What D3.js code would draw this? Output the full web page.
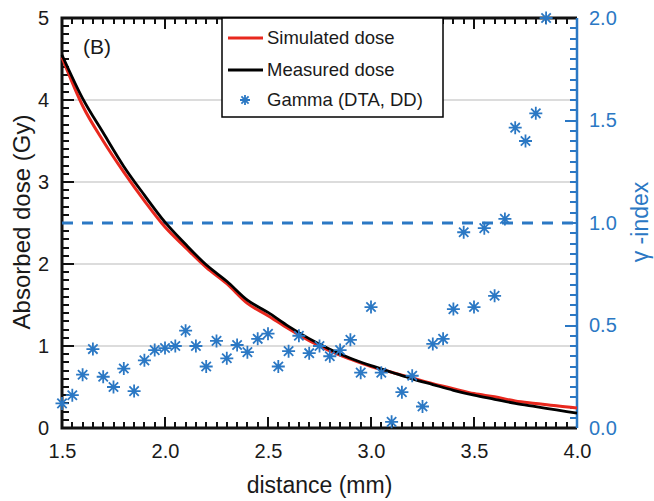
<!DOCTYPE html>
<html>
<head>
<meta charset="utf-8">
<script src="https://cdn.jsdelivr.net/npm/d3@7"></script>
<style>
    body { margin: 0; background: #fff; }
    text { font-family: "Liberation Sans", Arial, sans-serif; }
</style>
</head>
<body>
<div id="chart"></div>
<script>
// dose curves, every 0.1 mm
const distance = [1.5, 1.6, 1.7, 1.8, 1.9, 2.0, 2.1, 2.2, 2.3, 2.4, 2.5, 2.6, 2.7,
    2.8, 2.9, 3.0, 3.1, 3.2, 3.3, 3.4, 3.5, 3.6, 3.7, 3.8, 3.9, 4.0];
const simulatedDose = [4.52, 3.93, 3.50, 3.12, 2.77, 2.45, 2.20, 1.96, 1.76, 1.52, 1.37, 1.21, 1.065,
    0.94, 0.84, 0.75, 0.68, 0.61, 0.54, 0.48, 0.42, 0.38, 0.33, 0.30, 0.27, 0.245];
const measuredDose = [4.55, 4.02, 3.60, 3.19, 2.84, 2.51, 2.24, 1.99, 1.79, 1.56, 1.41, 1.24, 1.09,
    0.96, 0.85, 0.76, 0.68, 0.60, 0.53, 0.46, 0.40, 0.35, 0.30, 0.26, 0.22, 0.18];

// gamma index points (every 0.05 mm)
const gammaX = [1.5, 1.55, 1.6, 1.65, 1.7, 1.75, 1.8, 1.85, 1.9, 1.95, 2.0, 2.05, 2.1, 2.15,
    2.2, 2.25, 2.3, 2.35, 2.4, 2.45, 2.5, 2.55, 2.6, 2.65, 2.7, 2.75, 2.8, 2.85, 2.9, 2.95,
    3.0, 3.05, 3.1, 3.15, 3.2, 3.25, 3.3, 3.35, 3.4, 3.45, 3.5, 3.55, 3.6, 3.65, 3.7, 3.75,
    3.8, 3.85];
const gammaIndex = [0.12, 0.16, 0.26, 0.385, 0.25, 0.20, 0.29, 0.18, 0.33, 0.38, 0.39, 0.40, 0.475, 0.40,
    0.30, 0.425, 0.34, 0.405, 0.37, 0.435, 0.46, 0.30, 0.375, 0.45, 0.365, 0.40, 0.35, 0.38, 0.43, 0.27,
    0.59, 0.27, 0.03, 0.175, 0.255, 0.105, 0.41, 0.435, 0.58, 0.955, 0.59, 0.975, 0.645, 1.02, 1.465, 1.40,
    1.535, 2.0];

const xTicks = [1.5, 2.0, 2.5, 3.0, 3.5, 4.0];
const doseTicks = [0, 1, 2, 3, 4, 5];
const gammaTicks = [0, 0.5, 1.0, 1.5, 2.0];
const gammaThreshold = 1.0;
const legendLabels = ["Simulated dose", "Measured dose", "Gamma (DTA, DD)"];

const red = "#e8281e";
const blue = "#2b78c4";

let margin = { top: 18, right: 77, bottom: 73, left: 62 };
let width = 654 - margin.left - margin.right;
let height = 501 - margin.top - margin.bottom;

let svg = d3.select("#chart").append("svg")
    .attr("width", 654)
    .attr("height", 501)
    .append("g")
    .attr("transform", `translate(${margin.left}, ${margin.top})`);

let x = d3.scaleLinear().domain([1.5, 4.0]).range([0, width]);
let yDose = d3.scaleLinear().domain([0, 5]).range([height, 0]);
let yGamma = d3.scaleLinear().domain([0, 2]).range([height, 0]);

// horizontal grid lines
svg.append("g")
    .selectAll("line")
    .data(doseTicks.slice(1, -1))
    .enter().append("line")
    .attr("x1", 0).attr("x2", width)
    .attr("y1", d => yDose(d)).attr("y2", d => yDose(d))
    .attr("stroke", "#dcdcdc")
    .attr("stroke-width", 2);

// minor ticks, every 0.05 mm / 0.1 Gy / 0.05 gamma
const xMinor = d3.range(30, 81).map(i => i / 20);
const doseMinor = d3.range(0, 51).map(i => i / 10);
const gammaMinor = d3.range(0, 41).map(i => i / 20);

let isMajorX = v => Math.abs(v * 2 - Math.round(v * 2)) < 1e-6;
let isMajorD = v => Math.abs(v - Math.round(v)) < 1e-6;

// tick marks and frame, drawn first so everything else sits on top
let frame = svg.append("g").attr("class", "frame");

frame.selectAll(".tb")
    .data(xMinor)
    .enter().append("line")
    .attr("class", "tb")
    .attr("x1", d => Math.round(x(d))).attr("x2", d => Math.round(x(d)))
    .attr("y1", height).attr("y2", d => height - (isMajorX(d) ? 11 : 6))
    .attr("stroke", "#111").attr("stroke-width", 2);

frame.selectAll(".tt")
    .data(xMinor)
    .enter().append("line")
    .attr("class", "tt")
    .attr("x1", d => Math.round(x(d))).attr("x2", d => Math.round(x(d)))
    .attr("y1", 0).attr("y2", d => isMajorX(d) ? 11 : 6)
    .attr("stroke", "#111").attr("stroke-width", 2);

frame.selectAll(".tl")
    .data(doseMinor)
    .enter().append("line")
    .attr("class", "tl")
    .attr("x1", 0).attr("x2", d => isMajorD(d) ? 12 : 7)
    .attr("y1", d => Math.round(yDose(d))).attr("y2", d => Math.round(yDose(d)))
    .attr("stroke", "#111").attr("stroke-width", 2);

frame.selectAll(".tr")
    .data(gammaMinor)
    .enter().append("line")
    .attr("class", "tr")
    .attr("x1", width).attr("x2", d => width - (isMajorX(d) ? 12 : 7))
    .attr("y1", d => Math.round(yGamma(d))).attr("y2", d => Math.round(yGamma(d)))
    .attr("stroke", blue).attr("stroke-width", 2);

frame.append("path")
    .attr("d", `M${width},0H0V${height}H${width}`)
    .attr("fill", "none").attr("stroke", "#111").attr("stroke-width", 3);
frame.append("line")
    .attr("x1", width).attr("x2", width).attr("y1", 0).attr("y2", height)
    .attr("stroke", blue).attr("stroke-width", 2.5);

// tick labels
let xAxis = d3.axisBottom(x).tickValues(xTicks).tickFormat(d3.format(".1f")).tickSize(0).tickPadding(16);
svg.append("g").attr("class", "x-axis").attr("transform", `translate(0, ${height})`).call(xAxis);

let yAxis = d3.axisLeft(yDose).tickValues(doseTicks).tickFormat(d3.format("d")).tickSize(0).tickPadding(13);
svg.append("g").attr("class", "y-axis").call(yAxis);

let yAxisR = d3.axisRight(yGamma).tickValues(gammaTicks).tickFormat(d3.format(".1f")).tickSize(0).tickPadding(12);
let gr = svg.append("g").attr("class", "y-axis-right").attr("transform", `translate(${width}, 0)`).call(yAxisR);

svg.selectAll(".x-axis .domain, .y-axis .domain, .y-axis-right .domain").attr("stroke", "none");
svg.selectAll(".x-axis text, .y-axis text")
    .style("font-size", "20px").attr("fill", "#1a1a1a");
gr.selectAll("text").style("font-size", "20px").attr("fill", blue);

// dashed threshold line
svg.append("line")
    .attr("x1", 0).attr("x2", width)
    .attr("y1", yGamma(gammaThreshold)).attr("y2", yGamma(gammaThreshold))
    .attr("stroke", blue)
    .attr("stroke-width", 3)
    .attr("stroke-dasharray", "11,9");

// dose curves
let doseLine = (vals) => d3.line()
    .x((d, i) => x(distance[i]))
    .y(d => yDose(d))
    .curve(d3.curveMonotoneX)(vals);

svg.append("path")
    .attr("d", doseLine(simulatedDose))
    .attr("fill", "none")
    .attr("stroke", red)
    .attr("stroke-width", 3);

svg.append("path")
    .attr("d", doseLine(measuredDose))
    .attr("fill", "none")
    .attr("stroke", "#000")
    .attr("stroke-width", 2.8);

// asterisk marker
function asterisk(g, cx, cy, r) {
    let d = r * 0.72;
    let p = `M${cx - r},${cy}L${cx + r},${cy}M${cx},${cy - r}L${cx},${cy + r}` +
        `M${cx - d},${cy - d}L${cx + d},${cy + d}M${cx - d},${cy + d}L${cx + d},${cy - d}`;
    g.append("path").attr("d", p).attr("stroke", blue).attr("stroke-width", 1.8).attr("fill", "none");
}

let gPts = svg.append("g").attr("class", "gamma");
gammaX.forEach((v, i) => asterisk(gPts, x(v), yGamma(gammaIndex[i]), 6.5));

// legend
let legend = svg.append("g").attr("transform", `translate(${222 - margin.left}, 0)`);
legend.append("rect")
    .attr("x", 0).attr("y", 0)
    .attr("width", 221).attr("height", 99)
    .attr("fill", "#fff")
    .attr("stroke", "#000")
    .attr("stroke-width", 1.5);

let rowY = [20, 52, 82];
legend.append("line").attr("x1", 6).attr("x2", 41).attr("y1", rowY[0]).attr("y2", rowY[0])
    .attr("stroke", red).attr("stroke-width", 3);
legend.append("line").attr("x1", 6).attr("x2", 41).attr("y1", rowY[1]).attr("y2", rowY[1])
    .attr("stroke", "#000").attr("stroke-width", 3);
asterisk(legend, 23, rowY[2], 5);

legend.selectAll(".legend-text")
    .data(legendLabels)
    .enter().append("text")
    .attr("class", "legend-text")
    .attr("x", 45)
    .attr("y", (d, i) => rowY[i])
    .attr("dy", "0.35em")
    .style("font-size", "18.5px")
    .attr("fill", "#1a1a1a")
    .text(d => d);

// panel label
svg.append("text")
    .attr("x", 21).attr("y", 29)
    .attr("dy", "0.35em")
    .style("font-size", "21px")
    .attr("fill", "#1a1a1a")
    .text("(B)");

// axis titles
svg.append("text")
    .attr("text-anchor", "middle")
    .attr("x", width / 2)
    .attr("y", height + 57)
    .attr("dy", "0.35em")
    .style("font-size", "23px")
    .attr("fill", "#1a1a1a")
    .text("distance (mm)");

svg.append("text")
    .attr("text-anchor", "middle")
    .attr("transform", "rotate(-90)")
    .attr("x", -(222 - margin.top))
    .attr("y", -40)
    .attr("dy", "0.35em")
    .style("font-size", "24px")
    .attr("fill", "#1a1a1a")
    .text("Absorbed dose (Gy)");

svg.append("text")
    .attr("text-anchor", "middle")
    .attr("transform", "rotate(-90)")
    .attr("x", -(222 - margin.top))
    .attr("y", width + 63)
    .attr("dy", "0.35em")
    .style("font-size", "23px")
    .attr("fill", blue)
    .text("γ -index");
</script>
</body>
</html>
